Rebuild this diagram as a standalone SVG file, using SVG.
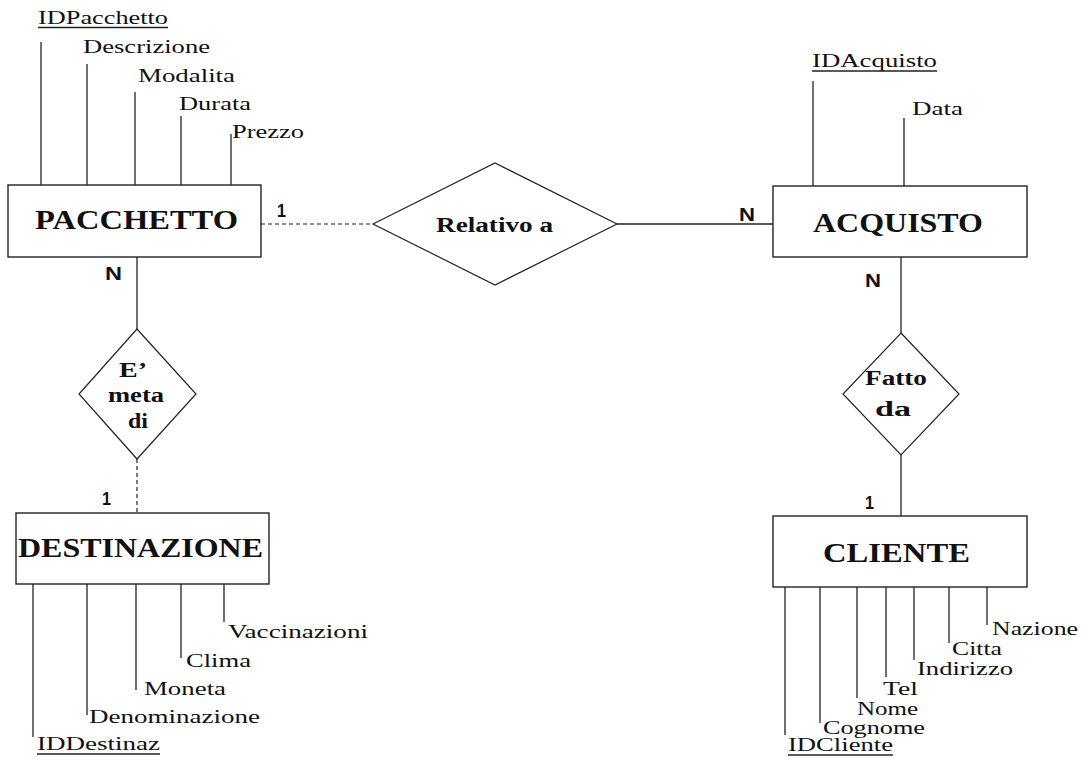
<svg xmlns="http://www.w3.org/2000/svg" width="1086" height="759" viewBox="0 0 1086 759">
<style>
.box{fill:#fff;stroke:#222;stroke-width:1.4}
.dia{fill:#fff;stroke:#222;stroke-width:1.2}
.ln{stroke:#222;stroke-width:1.3;fill:none}
.dash{stroke:#222;stroke-width:1.2;stroke-dasharray:4 3;fill:none}
.ent{font-family:"Liberation Serif","Times New Roman",serif;font-size:27px;font-weight:bold;fill:#111}
.rel{font-family:"Liberation Serif","Times New Roman",serif;font-size:20px;font-weight:bold;fill:#111}
.att{font-family:"Liberation Serif","Times New Roman",serif;font-size:18px;fill:#111}
.card{font-family:"Liberation Sans",Arial,sans-serif;font-size:18px;font-weight:bold;fill:#111}
</style>
<rect width="1086" height="759" fill="#fff"/>
<g id="connectors">
<line class="dash" x1="261" y1="224" x2="373" y2="224"/>
<line class="ln" x1="617" y1="224" x2="773" y2="224"/>
<line class="ln" x1="137" y1="257" x2="137" y2="329"/>
<line class="dash" x1="137" y1="459" x2="137" y2="513"/>
<line class="ln" x1="901" y1="257" x2="901" y2="333"/>
<line class="ln" x1="901" y1="455" x2="901" y2="516"/>
<text class="card" x="277" y="217" textLength="9" lengthAdjust="spacingAndGlyphs">1</text>
<text class="card" x="739" y="221" textLength="16" lengthAdjust="spacingAndGlyphs">N</text>
<text class="card" x="105" y="280" textLength="17" lengthAdjust="spacingAndGlyphs">N</text>
<text class="card" x="102" y="505" textLength="9" lengthAdjust="spacingAndGlyphs">1</text>
<text class="card" x="865" y="287" textLength="16" lengthAdjust="spacingAndGlyphs">N</text>
<text class="card" x="865" y="509" textLength="9" lengthAdjust="spacingAndGlyphs">1</text>
</g>
<g id="pacchetto">
<line class="ln" x1="41" y1="42" x2="41" y2="185"/>
<line class="ln" x1="87" y1="64" x2="87" y2="185"/>
<line class="ln" x1="135" y1="92" x2="135" y2="185"/>
<line class="ln" x1="181" y1="116" x2="181" y2="185"/>
<line class="ln" x1="231" y1="134" x2="231" y2="185"/>
<text class="att" x="38" y="24" textLength="130" lengthAdjust="spacingAndGlyphs">IDPacchetto</text>
<line class="ln" x1="38" y1="27.5" x2="168" y2="27.5" stroke-width="1"/>
<text class="att" x="83" y="53" textLength="127" lengthAdjust="spacingAndGlyphs">Descrizione</text>
<text class="att" x="138" y="82" textLength="97" lengthAdjust="spacingAndGlyphs">Modalita</text>
<text class="att" x="179" y="110" textLength="72" lengthAdjust="spacingAndGlyphs">Durata</text>
<text class="att" x="232" y="138" textLength="72" lengthAdjust="spacingAndGlyphs">Prezzo</text>
<rect class="box" x="8" y="185" width="253" height="72"/>
<text class="ent" x="35" y="229" textLength="203" lengthAdjust="spacingAndGlyphs">PACCHETTO</text>
</g>
<g id="acquisto">
<line class="ln" x1="813" y1="81" x2="813" y2="186"/>
<line class="ln" x1="904" y1="118" x2="904" y2="186"/>
<text class="att" x="812" y="67" textLength="125" lengthAdjust="spacingAndGlyphs">IDAcquisto</text>
<line class="ln" x1="812" y1="71" x2="937" y2="71" stroke-width="1"/>
<text class="att" x="912" y="115" textLength="51" lengthAdjust="spacingAndGlyphs">Data</text>
<rect class="box" x="773" y="186" width="254" height="71"/>
<text class="ent" x="813" y="232" textLength="170" lengthAdjust="spacingAndGlyphs">ACQUISTO</text>
</g>
<g id="relativo">
<polygon class="dia" points="373,224 495,163 617,224 495,285"/>
<text class="rel" x="436" y="232" textLength="117" lengthAdjust="spacingAndGlyphs">Relativo a</text>
</g>
<g id="emeta">
<polygon class="dia" points="137,329 196,394 137,459 79,394"/>
<text class="rel" x="119" y="377" textLength="28" lengthAdjust="spacingAndGlyphs">E’</text>
<text class="rel" x="108" y="402" textLength="56" lengthAdjust="spacingAndGlyphs">meta</text>
<text class="rel" x="128" y="428" textLength="20" lengthAdjust="spacingAndGlyphs">di</text>
</g>
<g id="fattoda">
<polygon class="dia" points="901,333 959,394 901,455 843,394"/>
<text class="rel" x="865" y="385" textLength="62" lengthAdjust="spacingAndGlyphs">Fatto</text>
<text class="rel" x="875" y="416" textLength="36" lengthAdjust="spacingAndGlyphs">da</text>
</g>
<g id="destinazione">
<rect class="box" x="16" y="513" width="253" height="71"/>
<text class="ent" x="18" y="557" textLength="245" lengthAdjust="spacingAndGlyphs">DESTINAZIONE</text>
<line class="ln" x1="33" y1="584" x2="33" y2="737"/>
<line class="ln" x1="87" y1="584" x2="87" y2="715"/>
<line class="ln" x1="136" y1="584" x2="136" y2="690"/>
<line class="ln" x1="181" y1="584" x2="181" y2="658"/>
<line class="ln" x1="224" y1="584" x2="224" y2="622"/>
<text class="att" x="37" y="750" textLength="123" lengthAdjust="spacingAndGlyphs">IDDestinaz</text>
<line class="ln" x1="37" y1="754" x2="160" y2="754" stroke-width="1"/>
<text class="att" x="89" y="723" textLength="171" lengthAdjust="spacingAndGlyphs">Denominazione</text>
<text class="att" x="144" y="695" textLength="82" lengthAdjust="spacingAndGlyphs">Moneta</text>
<text class="att" x="186" y="667" textLength="65" lengthAdjust="spacingAndGlyphs">Clima</text>
<text class="att" x="228" y="638" textLength="140" lengthAdjust="spacingAndGlyphs">Vaccinazioni</text>
</g>
<g id="cliente">
<rect class="box" x="773" y="516" width="254" height="71"/>
<text class="ent" x="823" y="562" textLength="147" lengthAdjust="spacingAndGlyphs">CLIENTE</text>
<line class="ln" x1="785" y1="587" x2="785" y2="735"/>
<line class="ln" x1="820" y1="587" x2="820" y2="723"/>
<line class="ln" x1="857" y1="587" x2="857" y2="698"/>
<line class="ln" x1="886" y1="587" x2="886" y2="677"/>
<line class="ln" x1="914" y1="587" x2="914" y2="660"/>
<line class="ln" x1="949" y1="587" x2="949" y2="643"/>
<line class="ln" x1="987" y1="587" x2="987" y2="625"/>
<text class="att" x="788" y="751" textLength="105" lengthAdjust="spacingAndGlyphs">IDCliente</text>
<line class="ln" x1="788" y1="755" x2="893" y2="755" stroke-width="1"/>
<text class="att" x="823" y="734" textLength="102" lengthAdjust="spacingAndGlyphs">Cognome</text>
<text class="att" x="857" y="715" textLength="61" lengthAdjust="spacingAndGlyphs">Nome</text>
<text class="att" x="883" y="695" textLength="35" lengthAdjust="spacingAndGlyphs">Tel</text>
<text class="att" x="917" y="675" textLength="96" lengthAdjust="spacingAndGlyphs">Indirizzo</text>
<text class="att" x="952" y="655" textLength="50" lengthAdjust="spacingAndGlyphs">Citta</text>
<text class="att" x="992" y="635" textLength="86" lengthAdjust="spacingAndGlyphs">Nazione</text>
</g>
</svg>
